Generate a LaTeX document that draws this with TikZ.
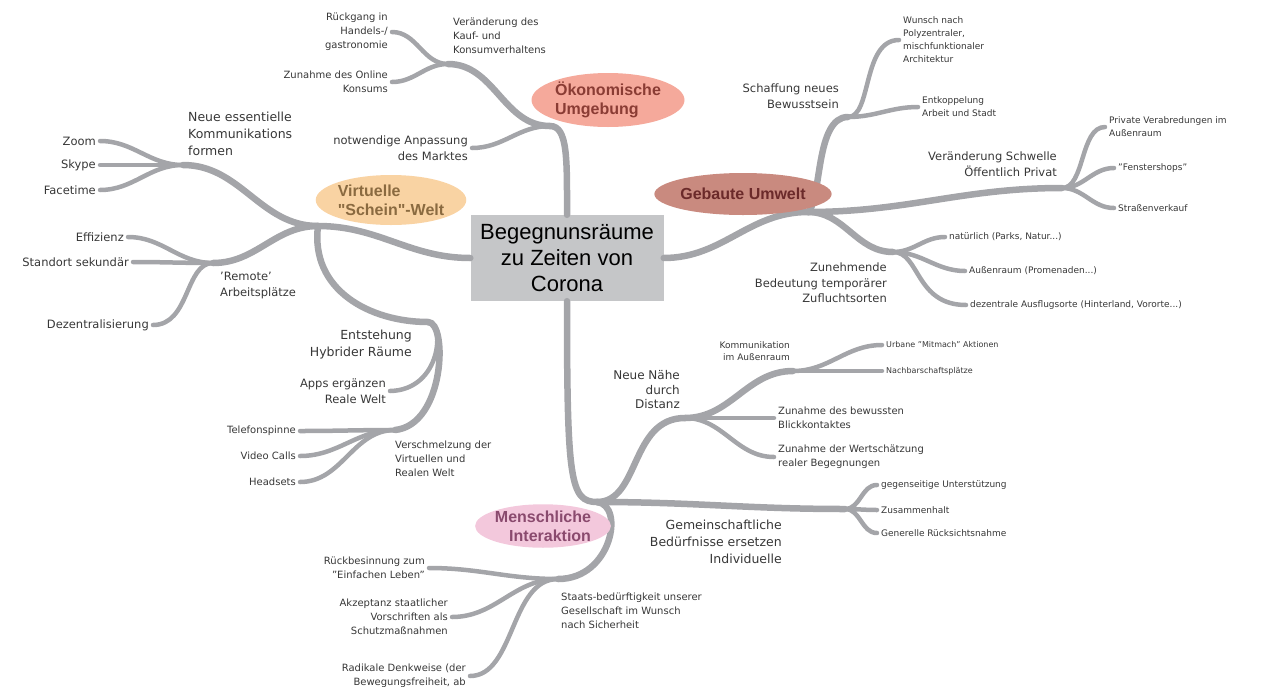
\documentclass[tikz,border=0pt]{standalone}
\usepackage{fontspec}
\setmainfont{DejaVu Sans}
\newfontfamily\arialfont{Liberation Sans}
\usepackage{tikz}
\usetikzlibrary{shapes.geometric}
\definecolor{branchgray}{RGB}{164,165,169}
\definecolor{hubgray}{RGB}{197,198,200}
\definecolor{labelgray}{RGB}{55,55,55}
\definecolor{oekofill}{RGB}{245,169,155}
\definecolor{oekotext}{RGB}{138,60,52}
\definecolor{virtfill}{RGB}{249,211,163}
\definecolor{virttext}{RGB}{138,106,64}
\definecolor{baufill}{RGB}{201,138,127}
\definecolor{bautext}{RGB}{107,42,42}
\definecolor{menschfill}{RGB}{243,200,220}
\definecolor{menschtext}{RGB}{138,74,110}

\begin{document}
\begin{tikzpicture}[x=1pt, y=1pt,
    trunk/.style={draw=branchgray, line width=6.5pt, line cap=round},
    twig/.style={draw=branchgray, line width=4.5pt, line cap=round},
    hub/.style={rectangle, fill=hubgray, minimum width=193pt, minimum height=86pt, align=center, text=black, font=\arialfont\fontsize{22}{26}\selectfont},
    cat/.style={ellipse, inner sep=0pt, font=\arialfont\bfseries\fontsize{16}{19}\selectfont},
    big/.style={text=labelgray, inner sep=4pt, font=\fontsize{12.5}{17}\selectfont},
    mid/.style={text=labelgray, inner sep=4pt, font=\fontsize{11.5}{15.5}\selectfont},
    small/.style={text=labelgray, inner sep=4pt, font=\fontsize{10}{14}\selectfont},
    tiny/.style={text=labelgray, inner sep=4pt, font=\fontsize{9}{13}\selectfont},
    tinier/.style={text=labelgray, inner sep=4pt, font=\fontsize{8}{12}\selectfont}]
    \useasboundingbox (0,0) rectangle (1267,-686);

    % Nodes
    \node[hub] (core) at (567,-258) {Begegnunsräume\\zu Zeiten von\\Corona};

    % oekonomisch
    \coordinate (oeko) at (550,-126);
    \coordinate (kauf) at (448,-64);
    \node[small, align=right, anchor=east] (rueck) at (392,-32) {Rückgang in\\Handels-/\\gastronomie};
    \node[small, align=right, anchor=east] (online) at (392,-82) {Zunahme des Online\\Konsums};
    \node[small, align=left, anchor=south west] (kaufTxt) at (449,-58) {Veränderung des\\Kauf- und\\Konsumverhaltens};
    \node[mid, align=right, anchor=east] (markt) at (472,-148) {notwendige Anpassung\\des Marktes};

    % virtuell
    \coordinate (virt) at (318,-226);
    \coordinate (komm) at (183,-165);
    \coordinate (remote) at (213,-263);
    \node[big, align=left, anchor=south west] (kommTxt) at (184,-160) {Neue essentielle\\Kommunikations\\formen};
    \node[mid, anchor=east] (zoom) at (100,-141) {Zoom};
    \node[mid, anchor=east] (skype) at (100,-165) {Skype};
    \node[mid, anchor=east] (facetime) at (100,-190) {Facetime};
    \node[mid, anchor=east] (effizienz) at (128,-237) {Effizienz};
    \node[mid, anchor=east] (standort) at (133,-262) {Standort sekundär};
    \node[mid, anchor=east] (dezentral) at (153,-325) {Dezentralisierung};
    \node[mid, align=left, anchor=north west] (remoteTxt) at (216,-268) {'Remote'\\Arbeitsplätze};

    \coordinate (hyb) at (428,-322);
    \coordinate (versch) at (395,-430);
    \node[big, align=right, anchor=north east] (hybTxt) at (416,-326) {Entstehung\\Hybrider Räume};
    \node[mid, align=right, anchor=east] (apps) at (390,-391) {Apps ergänzen\\Reale Welt};
    \node[small, anchor=east] (telefon) at (300,-431) {Telefonspinne};
    \node[small, anchor=east] (video) at (300,-456) {Video Calls};
    \node[small, anchor=east] (headsets) at (300,-482) {Headsets};
    \node[small, align=left, anchor=north west] (verschTxt) at (391,-437) {Verschmelzung der\\Virtuellen und\\Realen Welt};

    % gebaut
    \coordinate (bau) at (808,-212);
    \coordinate (bewusst) at (848,-117);
    \coordinate (schw) at (1062,-188);
    \coordinate (zufl) at (893,-252);
    \node[mid, align=right, anchor=east] (bewusstTxt) at (843,-96) {Schaffung neues\\Bewusstsein};
    \node[tiny, align=left, anchor=west] (wunsch) at (899,-40) {Wunsch nach\\Polyzentraler,\\mischfunktionaler\\Architektur};
    \node[tiny, align=left, anchor=west] (entk) at (918,-107) {Entkoppelung\\Arbeit und Stadt};
    \node[mid, align=right, anchor=east] (schwTxt) at (1061,-164) {Veränderung Schwelle\\Öffentlich Privat};
    \node[tiny, align=left, anchor=west] (priv) at (1105,-127) {Private Verabredungen im\\Außenraum};
    \node[tiny, anchor=west] (fenster) at (1114,-168) {"Fenstershops"};
    \node[tiny, anchor=west] (strassen) at (1114,-208) {Straßenverkauf};
    \node[mid, align=right, anchor=east] (zuflTxt) at (891,-283) {Zunehmende\\Bedeutung temporärer\\Zufluchtsorten};
    \node[tiny, anchor=west] (natur) at (945,-237) {natürlich (Parks, Natur...)};
    \node[tiny, anchor=west] (aussen) at (965,-271) {Außenraum (Promenaden...)};
    \node[tiny, anchor=west] (dezAus) at (966,-305) {dezentrale Ausflugsorte (Hinterland, Vororte...)};

    % menschlich
    \coordinate (mensch) at (597,-502);
    \coordinate (naehe) at (685,-418);
    \coordinate (komAus) at (793,-371);
    \coordinate (gemein) at (845,-509);
    \coordinate (staat) at (558,-579);
    \node[mid, align=right, anchor=east, font=\fontsize{12}{14.5}\selectfont] (naeheTxt) at (684,-390) {Neue Nähe\\durch\\Distanz};
    \node[tiny, align=right, anchor=east, font=\fontsize{9}{12}\selectfont] (komAusTxt) at (794,-351) {Kommunikation\\im Außenraum};
    \node[tinier, anchor=west] (urban) at (882,-345) {Urbane "Mitmach" Aktionen};
    \node[tinier, anchor=west] (nachbar) at (882,-371) {Nachbarschaftsplätze};
    \node[small, align=left, anchor=west] (blick) at (774,-418) {Zunahme des bewussten\\Blickkontaktes};
    \node[small, align=left, anchor=west] (wert) at (774,-457) {Zunahme der Wertschätzung\\realer Begegnungen};
    \node[big, align=right, anchor=east] (gemeinTxt) at (786,-542) {Gemeinschaftliche\\Bedürfnisse ersetzen\\Individuelle};
    \node[tiny, anchor=west] (gegen) at (877,-485) {gegenseitige Unterstützung};
    \node[tiny, anchor=west] (zusam) at (877,-510) {Zusammenhalt};
    \node[tiny, anchor=west] (gener) at (877,-533) {Generelle Rücksichtsnahme};
    \node[small, align=left, anchor=west] (staatTxt) at (557,-611) {Staats-bedürftigkeit unserer\\Gesellschaft im Wunsch\\nach Sicherheit};
    \node[small, align=right, anchor=east] (rueckb) at (429,-568) {Rückbesinnung zum\\"Einfachen Leben"};
    \node[small, align=right, anchor=east] (akzept) at (452,-617) {Akzeptanz staatlicher\\Vorschriften als\\Schutzmaßnahmen};
    \node[small, align=right, anchor=east] (radikal) at (470,-676) {Radikale Denkweise (der\\Bewegungsfreiheit, ab};

    % Branches
    \draw[trunk] (core.north) .. controls (567,-160) and (568,-126) .. (oeko);
    \draw[trunk] (oeko) to[out=180,in=0] (kauf);
    \draw[twig] (oeko) to[out=180,in=0] (markt.east);
    \draw[twig] (kauf) to[out=180,in=0] (rueck.east);
    \draw[twig] (kauf) to[out=180,in=0] (online.east);

    \draw[trunk] (core.west) to[out=180,in=0] (virt);
    \draw[trunk] (virt) to[out=180,in=0] (komm);
    \draw[trunk] (virt) to[out=180,in=0] (remote);
    \draw[twig] (komm) to[out=180,in=0] (zoom.east);
    \draw[twig] (komm) to[out=180,in=0] (skype.east);
    \draw[twig] (komm) to[out=180,in=0] (facetime.east);
    \draw[twig] (remote) to[out=180,in=0] (effizienz.east);
    \draw[twig] (remote) to[out=180,in=0] (standort.east);
    \draw[twig] (remote) .. controls (185,-263) and (190,-325) .. (dezentral.east);
    \draw[trunk] (virt) .. controls (310,-290) and (370,-322) .. (hyb);
    \draw[trunk] (hyb) .. controls (448,-322) and (445,-425) .. (versch);
    \draw[twig] (hyb) .. controls (445,-322) and (442,-390) .. (apps.east);
    \draw[twig] (versch) to[out=180,in=0] (telefon.east);
    \draw[twig] (versch) to[out=180,in=0] (video.east);
    \draw[twig] (versch) to[out=180,in=0] (headsets.east);

    \draw[trunk] (core.east) to[out=0,in=180] (bau);
    \draw[trunk] (bau) .. controls (822,-200) and (815,-117) .. (bewusst);
    \draw[twig] (bewusst) .. controls (872,-117) and (862,-40) .. (wunsch.west);
    \draw[twig] (bewusst) to[out=0,in=180] (entk.west);
    \draw[trunk] (bau) to[out=0,in=180] (schw);
    \draw[twig] (schw) .. controls (1085,-188) and (1080,-127) .. (priv.west);
    \draw[twig] (schw) to[out=0,in=180] (fenster.west);
    \draw[twig] (schw) to[out=0,in=180] (strassen.west);
    \draw[trunk] (bau) to[out=0,in=180] (zufl);
    \draw[twig] (zufl) to[out=0,in=180] (natur.west);
    \draw[twig] (zufl) to[out=0,in=180] (aussen.west);
    \draw[twig] (zufl) .. controls (920,-252) and (915,-305) .. (dezAus.west);

    \draw[trunk] (core.south) .. controls (567,-480) and (570,-502) .. (mensch);
    \draw[trunk] (mensch) .. controls (640,-502) and (630,-418) .. (naehe);
    \draw[trunk] (naehe) to[out=0,in=180] (komAus);
    \draw[twig] (naehe) to[out=0,in=180] (blick.west);
    \draw[twig] (naehe) to[out=0,in=180] (wert.west);
    \draw[twig] (komAus) to[out=0,in=180] (urban.west);
    \draw[twig] (komAus) to[out=0,in=180] (nachbar.west);
    \draw[trunk] (mensch) to[out=0,in=180] (gemein);
    \draw[twig] (gemein) to[out=0,in=180] (gegen.west);
    \draw[twig] (gemein) to[out=0,in=180] (zusam.west);
    \draw[twig] (gemein) to[out=0,in=180] (gener.west);
    \draw[trunk] (mensch) .. controls (625,-505) and (612,-579) .. (staat);
    \draw[twig] (staat) to[out=180,in=0] (rueckb.east);
    \draw[twig] (staat) to[out=180,in=0] (akzept.east);
    \draw[twig] (staat) .. controls (510,-579) and (515,-676) .. (radikal.east);

    % Categories
    \node[cat, fill=oekofill, text=oekotext, minimum width=153pt, minimum height=54pt, align=left] (oekoCat) at (608,-100) {Ökonomische\\Umgebung};
    \node[cat, fill=virtfill, text=virttext, minimum width=138pt, minimum height=50pt, align=left] (virtCat) at (391,-200) {Virtuelle\\"Schein"-Welt};
    \node[cat, fill=baufill, text=bautext, minimum width=150pt, minimum height=42pt] (bauCat) at (743,-194) {Gebaute Umwelt};
    \node[cat, fill=menschfill, text=menschtext, minimum width=133pt, minimum height=42pt, align=right] (menschCat) at (543,-526) {Menschliche\\Interaktion};
\end{tikzpicture}
\end{document}
